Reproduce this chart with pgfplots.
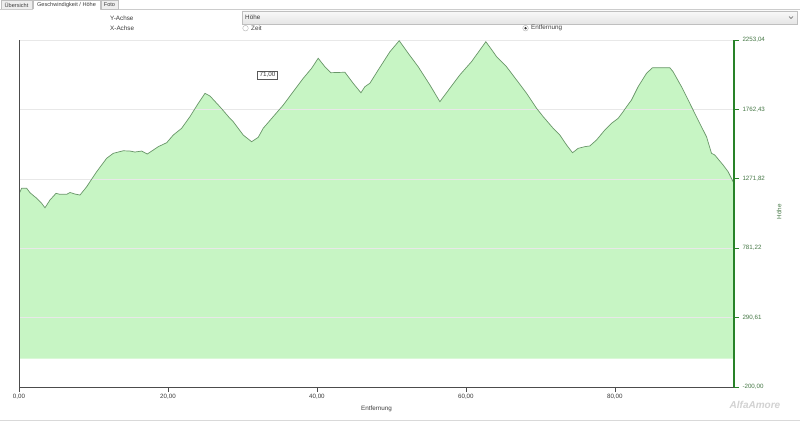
\documentclass[border=0pt]{standalone}
\usepackage{pgfplots}
\pgfplotsset{compat=1.18}
\usepackage{pgfplotstable}
\usepackage{fontspec}
\setmainfont{Liberation Sans}
\definecolor{fillgreen}{RGB}{199,245,196}
\definecolor{linegreen}{RGB}{105,150,105}
\definecolor{axgreen}{RGB}{40,130,40}
\definecolor{labgreen}{RGB}{70,120,70}
\definecolor{txtgray}{RGB}{60,60,60}

\pgfplotstableread{
x y
0 1164
0.36 1205
1.03 1205
1.48 1173
2.38 1134
3.05 1098
3.49 1067
4.16 1122
4.97 1169
5.50 1162
6.40 1162
6.85 1175
7.52 1164
8.19 1157
9.09 1216
10.43 1322
11.77 1417
12.66 1452
14.00 1470
14.90 1468
15.57 1461
16.47 1468
17.22 1447
18.03 1475
18.70 1499
19.83 1527
20.71 1581
21.84 1629
22.95 1711
24.07 1805
24.97 1876
25.64 1857
26.98 1781
28.32 1699
28.77 1675
30.11 1581
31.23 1534
32.12 1565
32.79 1629
34.13 1711
35.48 1793
36.82 1888
38.16 1982
39.29 2053
40.17 2124
41.07 2064
41.88 2022
43.76 2025
44.87 1947
45.91 1880
46.44 1923
47.11 1947
48.23 2041
49.80 2170
51.05 2248
52.26 2159
53.60 2064
55.17 1935
56.51 1817
57.85 1912
59.19 2006
60.76 2100
61.88 2182
62.68 2241
63.66 2170
64.12 2135
65.46 2064
66.81 1970
68.15 1876
69.49 1770
70.38 1711
71.72 1629
72.62 1581
73.52 1511
74.32 1456
75.07 1487
75.97 1499
76.64 1504
77.54 1546
78.66 1617
79.56 1664
80.44 1699
81.11 1746
81.57 1781
82.24 1829
83.13 1923
84.26 2018
85.06 2057
87.38 2057
87.82 2029
88.95 1923
90.07 1805
91.18 1687
92.31 1569
92.98 1452
93.42 1440
94.54 1369
95.21 1322
95.88 1251
96 1245
}\profile

\begin{document}
\begin{tikzpicture}[font=\fontsize{6.3}{7.5}\selectfont]
\fill[white] (0pt,0pt) rectangle (800pt,421pt);
\path[use as bounding box] (0pt,0pt) rectangle (800pt,421pt);
% tabs
\draw[gray!50, fill=gray!13] (1pt,411.5pt) rectangle (32pt,421pt);
\node[text=txtgray, font=\fontsize{5.6}{6.5}\selectfont] at (16.5pt,416.3pt) {Übersicht};
\draw[gray!40] (0pt,411.5pt) -- (800pt,411.5pt);
\fill[white] (33pt,411pt) rectangle (100pt,421pt);
\draw[gray!50] (33pt,411.5pt) -- (33pt,421pt) -- (100pt,421pt) -- (100pt,411.5pt);
\node[text=txtgray, font=\fontsize{5.6}{6.5}\selectfont] at (66.5pt,416.3pt) {Geschwindigkeit / Höhe};
\draw[gray!50, fill=gray!13] (101pt,411.5pt) rectangle (118pt,421pt);
\node[text=txtgray, font=\fontsize{5.6}{6.5}\selectfont] at (109.5pt,416.3pt) {Foto};
% controls
\node[anchor=west, text=txtgray, inner sep=0pt] at (110pt,403pt) {Y-Achse};
\node[anchor=west, text=txtgray, inner sep=0pt] at (110pt,393pt) {X-Achse};
\shade[top color=gray!5, bottom color=gray!20] (242pt,397pt) rectangle (797pt,410pt);
\draw[gray!50] (242pt,397pt) rectangle (797pt,410pt);
\node[anchor=west, text=txtgray, inner sep=0pt] at (245pt,403.5pt) {Höhe};
\draw[gray!70!black, line width=0.5pt] (789pt,404.5pt) -- (791pt,402.5pt) -- (793pt,404.5pt);
\draw[gray!60, fill=white] (245.5pt,392.8pt) circle (2.8pt);
\node[anchor=west, text=txtgray, inner sep=0pt] at (251pt,392.8pt) {Zeit};
\draw[gray!60, fill=white] (525.5pt,392.8pt) circle (2.8pt);
\fill[black!80] (525.5pt,392.8pt) circle (1.3pt);
\node[anchor=west, text=txtgray, inner sep=0pt] at (531pt,392.8pt) {Entfernung};
% tooltip
\node[draw=gray!70!black, fill=white, inner xsep=2pt, inner ysep=1.5pt, text=txtgray] at (267.5pt,346pt) {71,00};

\begin{axis}[
  at={(19pt,34pt)}, anchor=south west,
  scale only axis, width=715pt, height=347pt,
  xmin=0, xmax=96, ymin=-200, ymax=2253.04,
  axis x line=bottom, axis y line=right,
  xtick pos=bottom, ytick pos=right,
  xtick={0,20,40,60,80},
  ytick={-200,290.61,781.22,1271.82,1762.43,2253.04},
  axis on top,
  tick align=outside, major tick length=5pt,
  x axis line style={gray!60!black, line width=0.6pt, -},
  y axis line style={axgreen, line width=1.6pt, -},
  xtick style={gray!60!black, line width=0.5pt},
  ytick style={axgreen, line width=0.7pt},
  /pgf/number format/fixed,
  /pgf/number format/fixed zerofill,
  /pgf/number format/precision=2,
  /pgf/number format/use comma,
  /pgf/number format/1000 sep={},
  /pgf/number format/assume math mode=true,
  tick label style={font=\fontsize{6.2}{7}\selectfont},
  xticklabel style={text=txtgray, yshift=1.5pt},
  yticklabel style={text=labgreen, anchor=west},
]
\addplot[fill=fillgreen, draw=none] table[x=x, y=y] {\profile} \closedcycle;
\foreach \g in {290.61,781.22,1271.82,1762.43,2253.04}{
  \edef\tmp{\noexpand\draw[gray!18, line width=0.45pt] (axis cs:0,\g) -- (axis cs:96,\g);}\tmp
}
\addplot[linegreen, line width=0.7pt] table[x=x, y=y] {\profile};
\draw[gray!60!black, line width=0.6pt] (rel axis cs:0,0) -- (rel axis cs:0,1);
\end{axis}
\node[text=txtgray] at (376.5pt,12pt) {Entfernung};
\node[rotate=90, text=labgreen] at (779pt,209pt) {Höhe};
\node[text=gray!35, font=\fontsize{10}{12}\selectfont\bfseries\itshape] at (755pt,16pt) {AlfaAmore};
\draw[gray!30, line width=1.5pt] (0pt,0.75pt) -- (800pt,0.75pt);
\end{tikzpicture}
\end{document}
